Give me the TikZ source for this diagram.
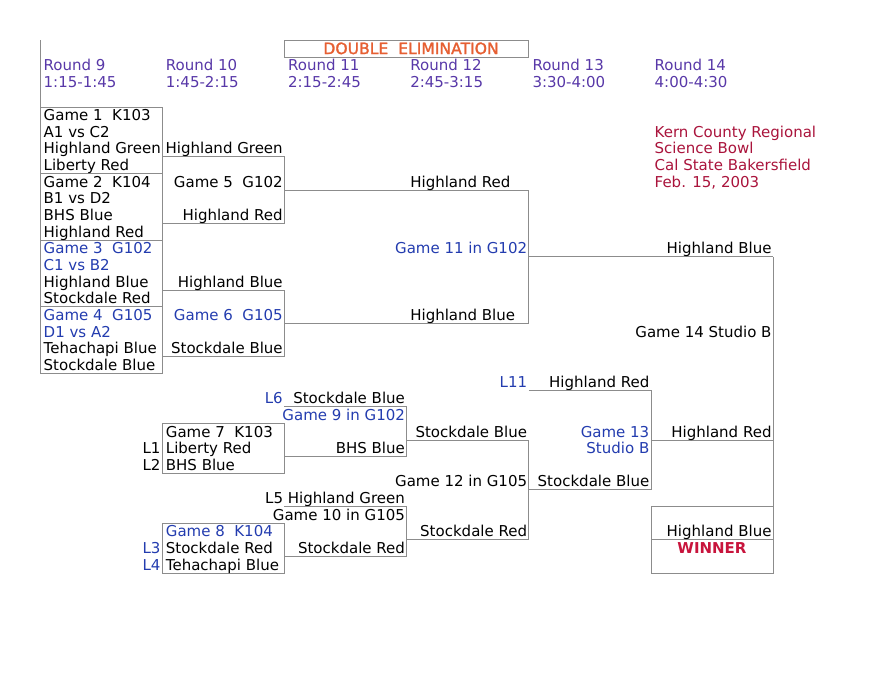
\documentclass[tikz,border=0pt]{standalone}
\usepackage{fontspec}
\setmainfont{DejaVu Sans}
\definecolor{rnd}{RGB}{88,56,168}
\definecolor{gblue}{RGB}{35,60,175}
\definecolor{orng}{RGB}{230,95,50}
\definecolor{crim}{RGB}{170,20,60}
\definecolor{winred}{RGB}{200,20,60}
\definecolor{linegray}{RGB}{140,140,140}
\begin{document}
\begin{tikzpicture}[x=1pt,y=-16.65pt,
  ln/.style={draw=linegray,line width=1pt},
  t/.style={inner sep=0pt,font=\fontsize{15}{16}\selectfont,yshift=3pt},
  tl/.style={t,anchor=base west},
  tr/.style={t,anchor=base east},
  bl/.style={text=gblue},
  pu/.style={text=rnd},
  cr/.style={text=crim}]
\path[use as bounding box,fill=white] (0,-6.4264) rectangle (880,34.4144);
% header
\draw[ln] (284.4,-4) rectangle (528.8,-3);
\node[t,anchor=base,text=orng,font=\fontsize{15.6}{16}\selectfont\addfontfeatures{FakeBold=1.6}] (title) at (411,-3) {DOUBLE\ \ ELIMINATION};
\node[tl,pu] (r9) at (43.5,-2) {Round 9};
\node[tl,pu] (r10) at (165.7,-2) {Round 10};
\node[tl,pu] (r11) at (287.9,-2) {Round 11};
\node[tl,pu] (r12) at (410.1,-2) {Round 12};
\node[tl,pu] (r13) at (532.3,-2) {Round 13};
\node[tl,pu] (r14) at (654.5,-2) {Round 14};
\node[tl,pu] (t9) at (43.5,-1) {1:15-1:45};
\node[tl,pu] (t10) at (165.7,-1) {1:45-2:15};
\node[tl,pu] (t11) at (287.9,-1) {2:15-2:45};
\node[tl,pu] (t12) at (410.1,-1) {2:45-3:15};
\node[tl,pu] (t13) at (532.3,-1) {3:30-4:00};
\node[tl,pu] (t14) at (654.5,-1) {4:00-4:30};
\draw[ln] (40,-4) -- (40,0);
% info
\node[tl,cr] (i1) at (654.5,2) {Kern County Regional};
\node[tl,cr] (i2) at (654.5,3) {Science Bowl};
\node[tl,cr] (i3) at (654.5,4) {Cal State Bakersfield};
\node[tl,cr] (i4) at (654.5,5) {Feb. 15, 2003};
% round 9 boxes
\draw[ln] (40,0) rectangle (162.2,16);
\draw[ln] (40,4) -- (162.2,4);
\draw[ln] (40,8) -- (162.2,8);
\draw[ln] (40,12) -- (162.2,12);
\node[tl] (g1a) at (43.5,1) {Game 1\ \ K103};
\node[tl] (g1b) at (43.5,2) {A1 vs C2};
\node[tl] (g1c) at (43.5,3) {Highland Green};
\node[tl] (g1d) at (43.5,4) {Liberty Red};
\node[tl] (g2a) at (43.5,5) {Game 2\ \ K104};
\node[tl] (g2b) at (43.5,6) {B1 vs D2};
\node[tl] (g2c) at (43.5,7) {BHS Blue};
\node[tl] (g2d) at (43.5,8) {Highland Red};
\node[tl,bl] (g3a) at (43.5,9) {Game 3\ \ G102};
\node[tl,bl] (g3b) at (43.5,10) {C1 vs B2};
\node[tl] (g3c) at (43.5,11) {Highland Blue};
\node[tl] (g3d) at (43.5,12) {Stockdale Red};
\node[tl,bl] (g4a) at (43.5,13) {Game 4\ \ G105};
\node[tl,bl] (g4b) at (43.5,14) {D1 vs A2};
\node[tl] (g4c) at (43.5,15) {Tehachapi Blue};
\node[tl] (g4d) at (43.5,16) {Stockdale Blue};
% round 10
\draw[ln] (162.2,3) -- (284.4,3) -- (284.4,7) -- (162.2,7);
\draw[ln] (284.4,5) -- (528.8,5);
\node[tr] (g5a) at (282.9,3) {Highland Green};
\node[tr] (g5b) at (282.9,5) {Game 5\ \ G102};
\node[tr] (g5c) at (282.9,7) {Highland Red};
\draw[ln] (162.2,11) -- (284.4,11) -- (284.4,15) -- (162.2,15);
\draw[ln] (284.4,13) -- (528.8,13);
\node[tr] (g6a) at (282.9,11) {Highland Blue};
\node[tr,bl] (g6b) at (282.9,13) {Game 6\ \ G105};
\node[tr] (g6c) at (282.9,15) {Stockdale Blue};
% game 11
\node[tl] (g11a) at (410.1,5) {Highland Red};
\node[tr,bl] (g11b) at (527.3,9) {Game 11 in G102};
\node[tl] (g11c) at (410.1,13) {Highland Blue};
\draw[ln] (528.8,5) -- (528.8,13);
\draw[ln] (528.8,9) -- (773.2,9);
\node[tr] (g14a) at (771.7,9) {Highland Blue};
\node[tr] (g14b) at (771.7,14) {Game 14 Studio B};
\draw[ln] (773.2,9) -- (773.2,28);
% game 9
\node[tr,bl] (l6) at (282.9,18) {L6};
\node[tr] (g9a) at (405.1,18) {Stockdale Blue};
\draw[ln] (284.4,18) -- (406.6,18) -- (406.6,21) -- (284.4,21);
\node[tr,bl] (g9b) at (405.1,19) {Game 9 in G102};
\node[tr] (g9c) at (405.1,21) {BHS Blue};
% game 7
\draw[ln] (162.2,19) rectangle (284.4,22);
\node[tl] (g7a) at (165.7,20) {Game 7\ \ K103};
\node[tl] (g7b) at (165.7,21) {Liberty Red};
\node[tl] (g7c) at (165.7,22) {BHS Blue};
\node[tr] (l1) at (160.7,21) {L1};
\node[tr] (l2) at (160.7,22) {L2};
% game 12
\draw[ln] (406.6,20) -- (528.8,20) -- (528.8,26) -- (406.6,26);
\node[tr] (g12a) at (527.3,20) {Stockdale Blue};
\node[tr] (g12b) at (527.3,23) {Game 12 in G105};
\node[tr] (g12c) at (527.3,26) {Stockdale Red};
\draw[ln] (528.8,23) -- (651,23);
% game 10
\node[tr] (l5) at (405.1,24) {L5 Highland Green};
\draw[ln] (284.4,24) -- (406.6,24) -- (406.6,27) -- (284.4,27);
\node[tr] (g10a) at (405.1,25) {Game 10 in G105};
\node[tr] (g10b) at (405.1,27) {Stockdale Red};
% game 8
\draw[ln] (162.2,25) rectangle (284.4,28);
\node[tl,bl] (g8a) at (165.7,26) {Game 8\ \ K104};
\node[tl] (g8b) at (165.7,27) {Stockdale Red};
\node[tl] (g8c) at (165.7,28) {Tehachapi Blue};
\node[tr,bl] (l3) at (160.7,27) {L3};
\node[tr,bl] (l4) at (160.7,28) {L4};
% game 13
\node[tr,bl] (l11) at (527.3,17) {L11};
\node[tr] (g13a) at (649.5,17) {Highland Red};
\draw[ln] (528.8,17) -- (651,17) -- (651,23);
\node[tr,bl] (g13b) at (649.5,20) {Game 13};
\node[tr,bl] (g13c) at (649.5,21) {Studio B};
\node[tr] (g13d) at (649.5,23) {Stockdale Blue};
\draw[ln] (651,20) -- (773.2,20);
\node[tr] (g13e) at (771.7,20) {Highland Red};
% winner
\draw[ln] (651,24) rectangle (773.2,28);
\draw[ln] (651,26) -- (773.2,26);
\node[tr] (win1) at (771.7,26) {Highland Blue};
\node[t,anchor=base,text=winred,font=\fontsize{15}{16}\selectfont\bfseries] (win2) at (712,27) {WINNER};
\end{tikzpicture}
\end{document}
